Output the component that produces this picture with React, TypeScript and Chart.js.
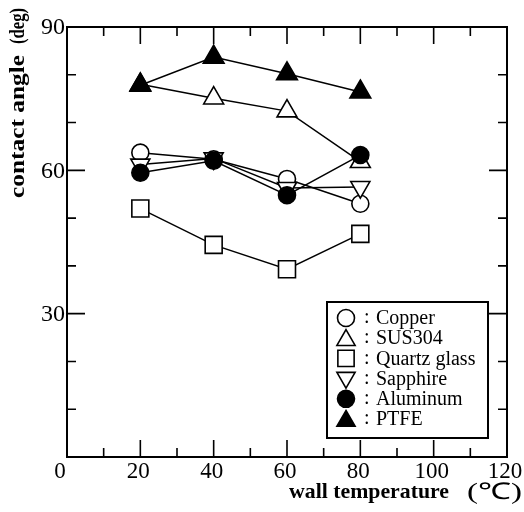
import React, { useEffect, useRef } from "react";
import { Chart, registerables } from "chart.js";

Chart.register(...registerables);

const temps = [20, 40, 60, 80];
const copper = [63.7, 62.3, 58.2, 53.0];
const sus304 = [78.0, 75.1, 72.4, 61.8];
const quartz = [52.0, 44.4, 39.3, 46.7];
const sapphire = [61.2, 62.5, 56.3, 56.5];
const aluminum = [59.5, 62.0, 54.8, 63.2];
const ptfe = [77.8, 83.7, 80.2, 76.4];

const xTickLabels = [0, 20, 40, 60, 80, 100, 120];
const yTickLabels = [30, 60, 90];
const xTitle = "wall temperature";
const xUnit = "(℃)";
const yTitle = "contact angle";
const yUnit = "(deg)";

type Marker = "circle" | "tri" | "rect" | "dtri";
type Series = { label: string; values: number[]; marker: Marker; filled: boolean; r: number };

const legendOrder: Series[] = [
  { label: "Copper", values: copper, marker: "circle", filled: false, r: 8.5 },
  { label: "SUS304", values: sus304, marker: "tri", filled: false, r: 11.5 },
  { label: "Quartz glass", values: quartz, marker: "rect", filled: false, r: 12 },
  { label: "Sapphire", values: sapphire, marker: "dtri", filled: false, r: 11 },
  { label: "Aluminum", values: aluminum, marker: "circle", filled: true, r: 8.5 },
  { label: "PTFE", values: ptfe, marker: "tri", filled: true, r: 12 },
];
// bottom-to-top draw order
const drawOrder = ["Aluminum", "PTFE", "Sapphire", "Quartz glass", "SUS304", "Copper"];

function drawMarker(ctx: CanvasRenderingContext2D, m: Marker, filled: boolean, x: number, y: number, r: number) {
  ctx.save();
  ctx.beginPath();
  if (m === "circle") {
    ctx.arc(x, y, r, 0, Math.PI * 2);
  } else if (m === "rect") {
    const s = Math.SQRT1_2 * r;
    ctx.rect(x - s, y - s, 2 * s, 2 * s);
  } else {
    const dir = m === "tri" ? 1 : -1;
    for (let i = 0; i < 3; i++) {
      const a = (i * 2 * Math.PI) / 3;
      const px = x + Math.sin(a) * r;
      const py = y - dir * Math.cos(a) * r;
      if (i === 0) ctx.moveTo(px, py);
      else ctx.lineTo(px, py);
    }
    ctx.closePath();
  }
  ctx.fillStyle = filled ? "#000" : "#fff";
  ctx.fill();
  ctx.lineWidth = 1.6;
  ctx.strokeStyle = "#000";
  ctx.stroke();
  ctx.restore();
}

function fitText(ctx: CanvasRenderingContext2D, text: string, x: number, y: number, width: number) {
  const w = ctx.measureText(text).width;
  ctx.save();
  ctx.translate(x, y);
  ctx.scale(width / w, 1);
  ctx.fillText(text, 0, 0);
  ctx.restore();
}

const framePlugin = {
  id: "framePlugin",
  afterDraw(chart: any) {
    const ctx: CanvasRenderingContext2D = chart.ctx;
    const { left, right, top, bottom } = chart.chartArea;
    const xs = chart.scales.x;
    const ys = chart.scales.y;
    ctx.save();
    ctx.strokeStyle = "#000";
    ctx.lineWidth = 2;
    ctx.strokeRect(left, top, right - left, bottom - top);
    ctx.lineWidth = 1.6;
    ctx.beginPath();
    for (let v = 10; v < 120; v += 10) {
      const px = xs.getPixelForValue(v);
      const len = v % 20 === 0 ? 17 : 9;
      ctx.moveTo(px, bottom);
      ctx.lineTo(px, bottom - len);
      ctx.moveTo(px, top);
      ctx.lineTo(px, top + len);
    }
    for (let v = 10; v < 90; v += 10) {
      const py = ys.getPixelForValue(v);
      const len = v % 30 === 0 ? 18 : 9;
      ctx.moveTo(left, py);
      ctx.lineTo(left + len, py);
      ctx.moveTo(right, py);
      ctx.lineTo(right - len, py);
    }
    ctx.stroke();

    // tick labels
    ctx.fillStyle = "#000";
    ctx.font = "23px 'Liberation Serif', serif";
    ctx.textAlign = "center";
    ctx.textBaseline = "alphabetic";
    xTickLabels.forEach((v) => {
      const px = xs.getPixelForValue(v);
      ctx.fillText(String(v), px - (v === 0 ? 7 : 2), 478);
    });
    ctx.font = "24px 'Liberation Serif', serif";
    ctx.textAlign = "right";
    ctx.textBaseline = "middle";
    yTickLabels.forEach((v) => {
      const py = ys.getPixelForValue(v);
      ctx.fillText(String(v), left - 2, py + 1);
    });

    // x title
    ctx.textAlign = "left";
    ctx.textBaseline = "alphabetic";
    ctx.font = "bold 21px 'Liberation Serif', serif";
    fitText(ctx, xTitle, 289, 498, 160);
    ctx.font = "23px 'Liberation Serif', serif";
    fitText(ctx, xUnit, 467, 499, 55);

    // y title
    ctx.save();
    ctx.translate(24, 198);
    ctx.rotate(-Math.PI / 2);
    ctx.font = "bold 22px 'Liberation Serif', serif";
    fitText(ctx, yTitle, 0, 0, 143);
    fitText(ctx, yUnit, 154, 0, 36);
    ctx.restore();

    // legend
    const bx = 327, by = 302, bw = 161, bh = 136;
    ctx.fillStyle = "#fff";
    ctx.fillRect(bx, by, bw, bh);
    ctx.lineWidth = 2;
    ctx.strokeRect(bx, by, bw, bh);
    ctx.font = "20px 'Liberation Serif', serif";
    ctx.textBaseline = "middle";
    ctx.textAlign = "left";
    legendOrder.forEach((s, i) => {
      const cy = 318 + i * 20.2;
      const lr = s.marker === "circle" ? 8.5 : s.marker === "rect" ? 11.5 : 10.5;
      drawMarker(ctx, s.marker, s.filled, 346, cy + (s.marker === "tri" ? 2 : s.marker === "dtri" ? -1 : 0), lr);
      ctx.fillStyle = "#000";
      ctx.fillText(":", 364, cy);
      ctx.fillText(s.label, 376, cy + 1);
    });
    ctx.restore();
  },
};

export default function App() {
  const ref = useRef<HTMLCanvasElement>(null);
  useEffect(() => {
    if (!ref.current) return;
    const byName: Record<string, Series> = {};
    legendOrder.forEach((s) => (byName[s.label] = s));
    const datasets = drawOrder.map((name) => {
      const s = byName[name];
      return {
        label: s.label,
        data: temps.map((t, i) => ({ x: t, y: s.values[i] })),
        borderColor: "#000",
        borderWidth: 1.5,
        showLine: true,
        fill: false,
        tension: 0,
        pointStyle: false as any,
        pointRadius: 0,
      };
    });
    const markerPlugin = {
      id: "markerPlugin",
      afterDatasetDraw(chart: any, args: any) {
        const ds = chart.data.datasets[args.index];
        const s = byName[ds.label];
        const meta = args.meta;
        meta.data.forEach((pt: any) => {
          drawMarker(chart.ctx, s.marker, s.filled, pt.x, pt.y, s.r);
        });
      },
    };
    const chart = new Chart(ref.current, {
      type: "scatter",
      data: { datasets },
      options: {
        animation: false,
        responsive: false,
        devicePixelRatio: 1,
        layout: { padding: { left: 67, right: 17, top: 27, bottom: 55 } },
        plugins: { legend: { display: false }, tooltip: { enabled: false } },
        scales: {
          x: { type: "linear", min: 0, max: 120, display: false },
          y: { type: "linear", min: 0, max: 90, display: false },
        },
      },
      plugins: [markerPlugin, framePlugin],
    });
    return () => chart.destroy();
  }, []);
  return (
    <div style={{ position: "absolute", left: 0, top: 0, width: 524, height: 512, background: "#fff" }}>
      <canvas ref={ref} width={524} height={512} style={{ width: 524, height: 512 }} />
    </div>
  );
}
